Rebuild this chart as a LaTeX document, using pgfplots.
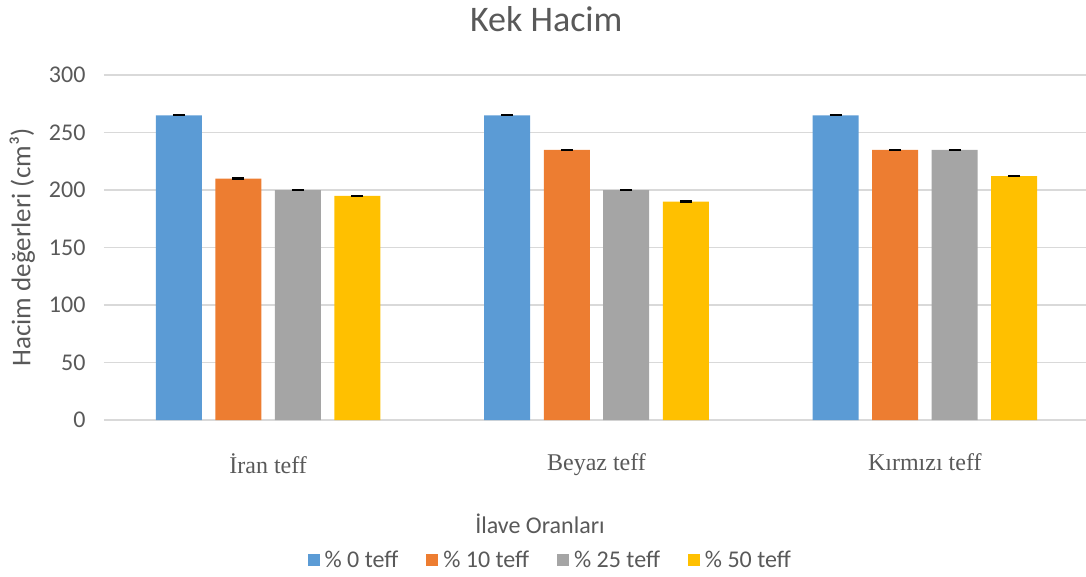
\documentclass[border=0pt]{standalone}
\usepackage{pgfplots}
\usepackage{pgfplotstable}
\pgfplotsset{compat=1.18}
\usepackage{fontspec}
\setmainfont{Carlito}
\newfontfamily\timesf{Liberation Serif}
\definecolor{c0}{HTML}{5B9BD5}
\definecolor{c1}{HTML}{ED7D31}
\definecolor{c2}{HTML}{A5A5A5}
\definecolor{c3}{HTML}{FFC000}
\definecolor{gridc}{HTML}{D9D9D9}
\definecolor{txt}{HTML}{595959}

\pgfplotstableread{
x y e
0 265 0.3
1 265 0.3
2 265 0.3
}\tzero
\pgfplotstableread{
x y e
0 210 0.3
1 235 0.3
2 235 0.3
}\tten
\pgfplotstableread{
x y e
0 200 0.3
1 200 0.3
2 235 0.3
}\ttwentyfive
\pgfplotstableread{
x y e
0 195 0.3
1 190 0.3
2 212 0.3
}\tfifty

\begin{document}
\begin{tikzpicture}
\path[use as bounding box] (0,0) rectangle (1086pt,576pt);
\begin{axis}[
  at={(104pt,156pt)}, anchor=south west,
  scale only axis, width=985pt, height=345pt,
  xmin=-0.5, xmax=2.5, ymin=0, ymax=300,
  ytick={0,50,...,300},
  xtick={0,1,2},
  xticklabels={İran teff, Beyaz teff, Kırmızı teff},
  ymajorgrids, grid style={draw=gridc, line width=1.5pt},
  axis line style={draw=none},
  major tick length=0pt,
  tick style={draw=none},
  /pgf/number format/assume math mode=true,
  yticklabel style={font=\fontsize{24}{24}\selectfont, text=txt, xshift=-15pt},
  xticklabel style={font=\timesf\fontsize{24}{24}\selectfont, text=txt, yshift=-30pt},
  title={Kek Hacim},
  title style={at={(axis description cs:0.449,1.145)}, anchor=center, font=\fontsize{36}{36}\selectfont, text=txt},
  xlabel={İlave Oranları},
  xlabel style={at={(axis description cs:0.4426,-0.3014)}, anchor=center, font=\fontsize{24}{24}\selectfont, text=txt},
  ylabel={Hacim değerleri (cm³)},
  ylabel style={at={(axis description cs:-0.083,0.5)}, anchor=center, rotate=0, font=\fontsize{27}{27}\selectfont, text=txt},
  ybar, bar width=0.14,
  legend columns=4,
  legend style={at={(0.453,-0.406)}, anchor=center, draw=none, fill=none,
    font=\fontsize{24}{24}\selectfont, text=txt,
    /tikz/every odd column/.append style={column sep=3pt},
    /tikz/every even column/.append style={column sep=26pt}},
  legend image code/.code={\fill[#1] (0pt,-6pt) rectangle (12pt,6pt);},
]
\addplot[fill=c0, draw=none, bar shift=-0.272,
  error bars/.cd, y dir=both, y explicit,
  error bar style={black, line width=1.5pt},
  error mark options={black, line width=1.5pt, mark size=6pt, rotate=90}]
  table[x=x, y=y, y error=e] {\tzero};
\addplot[fill=c1, draw=none, bar shift=-0.0905,
  error bars/.cd, y dir=both, y explicit,
  error bar style={black, line width=1.5pt},
  error mark options={black, line width=1.5pt, mark size=6pt, rotate=90}]
  table[x=x, y=y, y error=e] {\tten};
\addplot[fill=c2, draw=none, bar shift=0.0905,
  error bars/.cd, y dir=both, y explicit,
  error bar style={black, line width=1.5pt},
  error mark options={black, line width=1.5pt, mark size=6pt, rotate=90}]
  table[x=x, y=y, y error=e] {\ttwentyfive};
\addplot[fill=c3, draw=none, bar shift=0.272,
  error bars/.cd, y dir=both, y explicit,
  error bar style={black, line width=1.5pt},
  error mark options={black, line width=1.5pt, mark size=6pt, rotate=90}]
  table[x=x, y=y, y error=e] {\tfifty};
\legend{\% 0 teff, \% 10 teff, \% 25 teff, \% 50 teff}
\end{axis}
\end{tikzpicture}
\end{document}
